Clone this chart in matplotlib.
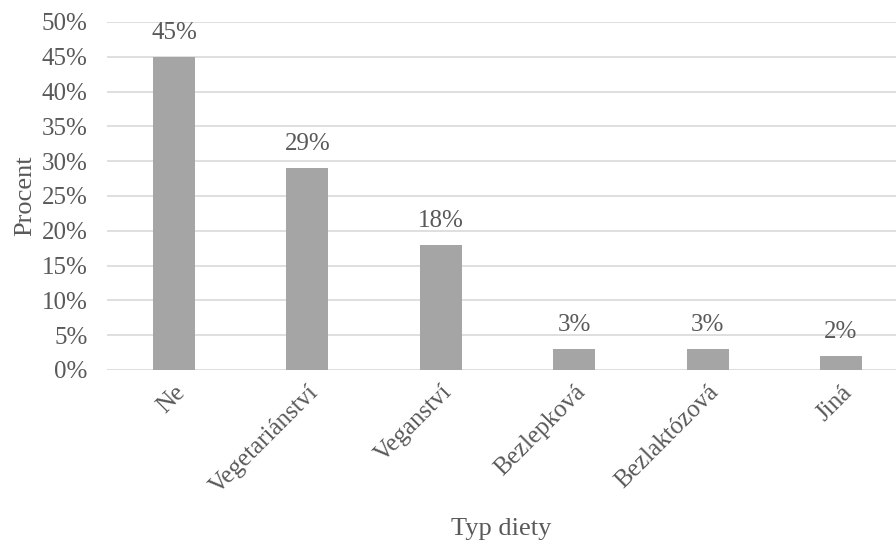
import matplotlib
matplotlib.use("Agg")
import matplotlib.pyplot as plt
from matplotlib.ticker import FuncFormatter

categories = ["Ne", "Vegetariánství", "Veganství", "Bezlepková", "Bezlaktózová", "Jiná"]
values = [45, 29, 18, 3, 3, 2]
yticks = [0, 5, 10, 15, 20, 25, 30, 35, 40, 45, 50]

plt.rcParams['font.family'] = ['Liberation Serif', 'DejaVu Serif']
txt = '#595959'

fig = plt.figure(figsize=(8.96, 5.44), dpi=100)
ax = fig.add_axes([107.3/896, 174/544, 1 - 107.3/896, 348/544])

x = list(range(len(categories)))
ax.bar(x, values, width=0.315, color='#A5A5A5', zorder=3)
for xi, v in zip(x, values):
    ax.annotate(f"{v}%", (xi, v), xytext=(0, 13), textcoords='offset points',
                ha='center', va='baseline', fontsize=18, color=txt, zorder=4)

ax.set_ylim(0, 50)
ax.set_xlim(-0.5, -0.5 + (896 - 107.3) / 133.4)
ax.set_yticks(yticks)
ax.yaxis.set_major_formatter(FuncFormatter(lambda v, p: f"{int(v)}%"))
ax.grid(axis='y', color='#D9D9D9', linewidth=1.2, zorder=0)
for s in ax.spines.values():
    s.set_visible(False)
ax.tick_params(axis='both', length=0, labelsize=18, colors=txt)
ax.tick_params(axis='y', pad=14)
ax.set_xticks(x)
ax.set_xticklabels(categories, rotation=45, ha='right', va='top', rotation_mode='anchor')
ax.tick_params(axis='x', pad=8)

fig.text((107.3 + 896) / 2 / 896, 9 / 544, "Typ diety", fontsize=19, color=txt,
         ha='center', va='baseline')
ax.set_ylabel("Procent", fontsize=19, color=txt, labelpad=4)

fig.savefig("out.png", dpi=100)
